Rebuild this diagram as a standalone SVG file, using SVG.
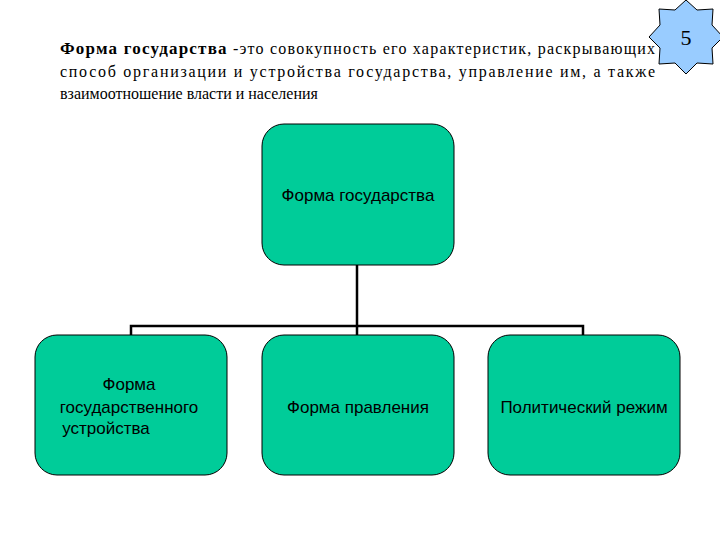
<svg xmlns="http://www.w3.org/2000/svg" width="720" height="540" viewBox="0 0 720 540">
<style>
.box{fill:#00cc99;stroke:#000;stroke-width:1}
.lbl{font-family:"Liberation Sans",Arial,sans-serif;font-size:17px;fill:#000;text-anchor:middle}
.ser{font-family:"Liberation Serif","Times New Roman",serif;font-size:16px;fill:#000}
.con{fill:none;stroke:#000;stroke-width:2.5}
</style>
<rect width="720" height="540" fill="#fff"/>
<g id="definition">
<text class="ser" x="60" y="54" textLength="595" lengthAdjust="spacing"><tspan font-weight="bold" font-size="17px">Форма государства</tspan> -это совокупность его характеристик, раскрывающих</text>
<text class="ser" x="60" y="77" textLength="595" lengthAdjust="spacing">способ организации и устройства государства, управление им, а также</text>
<text class="ser" x="60" y="99">взаимоотношение власти и населения</text>
</g>
<g id="badge">
<polygon points="686,0 697,10 713,9 712,25 723,37 712,48 713,64 697,63 686,74 675,63 659,64 660,48 649,37 660,25 659,9 675,10" fill="#99ccff" stroke="#000" stroke-width="1"/>
<text x="686" y="45" text-anchor="middle" font-family="Liberation Serif,serif" font-size="22">5</text>
</g>
<g id="connectors">
<path class="con" d="M357,265 V335 M131,335 V326 H583 V335"/>
</g>
<g id="root"><rect class="box" x="262" y="124" width="192" height="141" rx="22"/><text class="lbl" x="358" y="201">Форма государства</text></g>
<g id="n1"><rect class="box" x="35" y="335" width="192" height="140" rx="22"/><text class="lbl"><tspan x="129" y="390">Форма</tspan><tspan x="129" y="413">государственного</tspan><tspan x="106" y="434">устройства</tspan></text></g>
<g id="n2"><rect class="box" x="262" y="335" width="192" height="140" rx="22"/><text class="lbl" x="358" y="413">Форма правления</text></g>
<g id="n3"><rect class="box" x="488" y="335" width="192" height="140" rx="22"/><text class="lbl" x="584" y="413">Политический режим</text></g>
</svg>
